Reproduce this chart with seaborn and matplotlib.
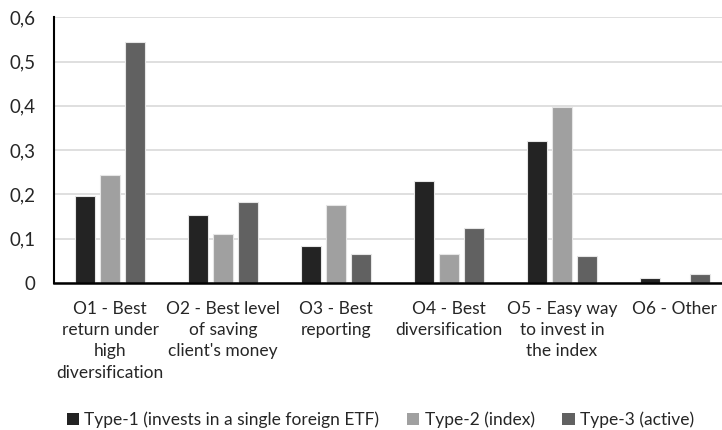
import matplotlib
matplotlib.use("Agg")
import matplotlib.pyplot as plt
import seaborn as sns
import pandas as pd
from matplotlib.ticker import FuncFormatter
from matplotlib.patches import Patch

categories = [
    "O1 - Best\nreturn under\nhigh\ndiversification",
    "O2 - Best level\nof saving\nclient's money",
    "O3 - Best\nreporting",
    "O4 - Best\ndiversification",
    "O5 - Easy way\nto invest in\nthe index",
    "O6 - Other",
]
series_names = [
    "Type-1 (invests in a single foreign ETF)",
    "Type-2 (index)",
    "Type-3 (active)",
]
type1 = [0.197, 0.153, 0.084, 0.231, 0.320, 0.011]
type2 = [0.244, 0.110, 0.176, 0.066, 0.398, 0.0]
type3 = [0.544, 0.183, 0.066, 0.124, 0.062, 0.021]
colors = ["#232323", "#a0a0a0", "#616161"]
yticks = [0, 0.1, 0.2, 0.3, 0.4, 0.5, 0.6]

rows = []
for name, vals in zip(series_names, [type1, type2, type3]):
    for cat, v in zip(categories, vals):
        rows.append({"category": cat, "series": name, "value": v})
df = pd.DataFrame(rows)

sns.set_style("white")
plt.rcParams["font.family"] = ["Lato", "DejaVu Sans"]

fig = plt.figure(figsize=(7.22, 4.30), dpi=100)
W, H = 722, 430
left_px, right_px, top_px, bottom_px = 53.5, 722, 17.3, 283
ax = fig.add_axes([left_px / W, 1 - bottom_px / H,
                   (right_px - left_px) / W, (bottom_px - top_px) / H])

sns.barplot(data=df, x="category", y="value", hue="series",
            palette=colors, width=0.664, gap=0.2,
            edgecolor="#e6e6e6", linewidth=0.8, ax=ax, legend=False)

ax.set_ylim(0, 0.6)
ax.set_xlim(-0.5, -0.5 + (right_px - left_px) / 113)
ax.set_yticks(yticks)
ax.yaxis.set_major_formatter(FuncFormatter(
    lambda v, p: "0" if abs(v) < 1e-9 else f"{v:.1f}".replace(".", ",")))
ax.grid(axis="y", color="#d9d9d9", linewidth=1.2)
ax.set_axisbelow(True)
for s in ["top", "right"]:
    ax.spines[s].set_visible(False)
ax.spines["left"].set_color("black")
ax.spines["left"].set_linewidth(1.5)
ax.spines["bottom"].set_color("black")
ax.spines["bottom"].set_linewidth(1.8)
ax.set_xlabel("")
ax.set_ylabel("")
ax.tick_params(axis="both", length=0, colors="#262626")
ax.tick_params(axis="x", pad=13, labelsize=12.5)
ax.tick_params(axis="y", pad=13, labelsize=13.5)
for lbl in ax.get_xticklabels():
    lbl.set_linespacing(1.4)

handles = [Patch(facecolor=c, edgecolor="none") for c in colors]
fig.legend(handles, series_names, loc="center", bbox_to_anchor=(0.527, 0.024),
           ncol=3, frameon=False, fontsize=12.5, handlelength=0.7, handleheight=0.7,
           handletextpad=0.3, columnspacing=1.6, labelcolor="#262626")

fig.savefig("out.png", dpi=100)
